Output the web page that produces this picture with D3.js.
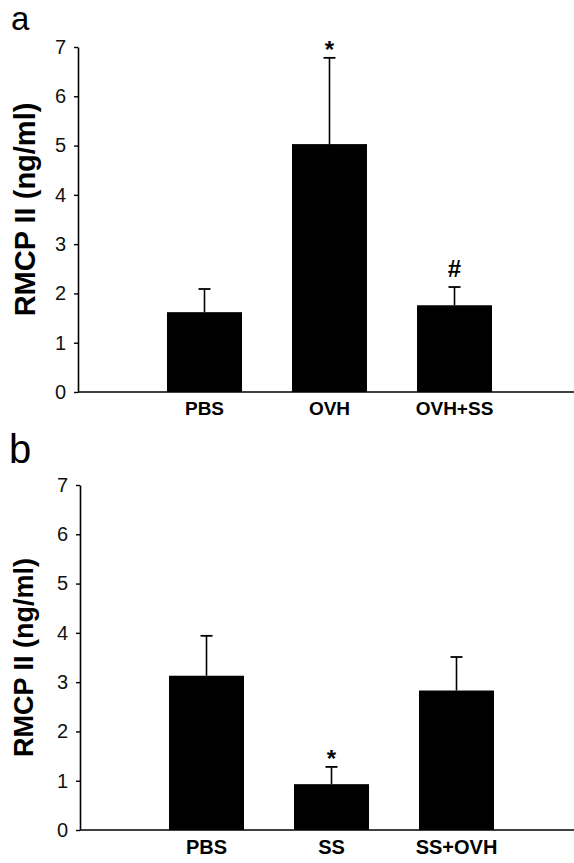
<!DOCTYPE html>
<html>
<head>
<meta charset="utf-8">
<script src="https://cdn.jsdelivr.net/npm/d3@7"></script>
<style>
  body { margin: 0; background: #fff; }
  text { font-family: "Liberation Sans", Arial, sans-serif; }
</style>
</head>
<body>
<div id="chart"></div>
<script>
// panel a data
var categoriesA = ["PBS", "OVH", "OVH+SS"];
var meansA = [1.62, 5.03, 1.76];
var upperA = [2.09, 6.78, 2.13];
var marksA = ["", "*", "#"];

// panel b data
var categoriesB = ["PBS", "SS", "SS+OVH"];
var meansB = [3.13, 0.93, 2.83];
var upperB = [3.94, 1.28, 3.51];
var marksB = ["", "*", ""];

var yTicks = [0, 1, 2, 3, 4, 5, 6, 7];

var svgWidth = 574;
var svgHeight = 863;

var svg = d3.select("#chart")
  .append("svg")
  .attr("width", svgWidth)
  .attr("height", svgHeight);

function drawPanel(opts) {
  var g = svg.append("g");

  var y = d3.scaleLinear()
    .domain([0, 7])
    .range([opts.y0, opts.y7]);

  var x = d3.scaleBand()
    .domain(opts.categories)
    .range([opts.axisX + 64, opts.axisX + 439])
    .paddingInner(0.4)
    .paddingOuter(0.2);

  // y axis
  var leftAxis = d3.axisLeft(y)
    .tickValues(yTicks)
    .tickFormat(d3.format("d"))
    .tickSize(4)
    .tickSizeOuter(0)
    .tickPadding(8);

  var ya = g.append("g")
    .attr("transform", `translate(${opts.axisX},0)`)
    .call(leftAxis);
  ya.select(".domain").attr("stroke-width", 1.6);
  ya.selectAll(".tick line").attr("stroke-width", 1.4);
  ya.selectAll(".tick text")
    .attr("font-size", 20)
    .attr("fill", "#111")
    .style("font-family", "'Liberation Sans', Arial, sans-serif");

  // baseline running to the right edge
  g.append("line")
    .attr("x1", opts.axisX)
    .attr("x2", svgWidth)
    .attr("y1", y(0))
    .attr("y2", y(0))
    .attr("stroke", "#000")
    .attr("stroke-width", 1.6);

  // category labels
  var bottomAxis = d3.axisBottom(x).tickSize(0).tickPadding(10);
  var xa = g.append("g")
    .attr("transform", `translate(0,${y(0)})`)
    .call(bottomAxis);
  xa.select(".domain").remove();
  xa.selectAll(".tick text")
    .attr("font-size", opts.catSize)
    .attr("font-weight", "bold")
    .attr("fill", "#000")
    .style("font-family", "'Liberation Sans', Arial, sans-serif");

  var rows = opts.categories.map(function(c, i) {
    return { cat: c, mean: opts.means[i], upper: opts.upper[i], mark: opts.marks[i] };
  });

  // bars
  g.selectAll("rect.bar")
    .data(rows)
    .enter()
    .append("rect")
    .attr("class", "bar")
    .attr("x", d => x(d.cat))
    .attr("width", x.bandwidth())
    .attr("y", d => y(d.mean))
    .attr("height", d => y(0) - y(d.mean))
    .attr("fill", "#000");

  // error bars (upper only)
  var cx = d => x(d.cat) + x.bandwidth() / 2;
  g.selectAll("line.err")
    .data(rows)
    .enter()
    .append("line")
    .attr("class", "err")
    .attr("x1", cx).attr("x2", cx)
    .attr("y1", d => y(d.mean))
    .attr("y2", d => y(d.upper))
    .attr("stroke", "#000")
    .attr("stroke-width", 1.6);

  g.selectAll("line.cap")
    .data(rows)
    .enter()
    .append("line")
    .attr("class", "cap")
    .attr("x1", d => cx(d) - 6).attr("x2", d => cx(d) + 6)
    .attr("y1", d => y(d.upper))
    .attr("y2", d => y(d.upper))
    .attr("stroke", "#000")
    .attr("stroke-width", 1.8);

  // significance marks
  g.selectAll("text.mark")
    .data(rows.filter(d => d.mark !== ""))
    .enter()
    .append("text")
    .attr("class", "mark")
    .attr("x", cx)
    .attr("y", d => y(d.upper) - (d.mark === "*" ? 0 : 10))
    .attr("text-anchor", "middle")
    .attr("font-size", 24)
    .attr("font-weight", "bold")
    .text(d => d.mark);

  // y label
  g.append("text")
    .attr("transform", `translate(${opts.labelX},${(y(0) + y(7)) / 2 + opts.labelShift}) rotate(-90)`)
    .attr("text-anchor", "middle")
    .attr("font-size", opts.labelSize)
    .attr("font-weight", "bold")
    .text("RMCP II (ng/ml)");

  // panel letter
  g.append("text")
    .attr("x", opts.letterX)
    .attr("y", opts.letterY)
    .attr("font-size", opts.letterSize)
    .text(opts.letter);
}

drawPanel({
  categories: categoriesA, means: meansA, upper: upperA, marks: marksA,
  axisX: 78, y0: 392, y7: 47,
  labelX: 35, labelShift: -10, labelSize: 29, catSize: 19,
  letter: "a", letterX: 11, letterY: 30, letterSize: 33
});

drawPanel({
  categories: categoriesB, means: meansB, upper: upperB, marks: marksB,
  axisX: 80, y0: 830, y7: 485,
  labelX: 33, labelShift: 0, labelSize: 27, catSize: 20,
  letter: "b", letterX: 9, letterY: 463, letterSize: 40
});
</script>
</body>
</html>
